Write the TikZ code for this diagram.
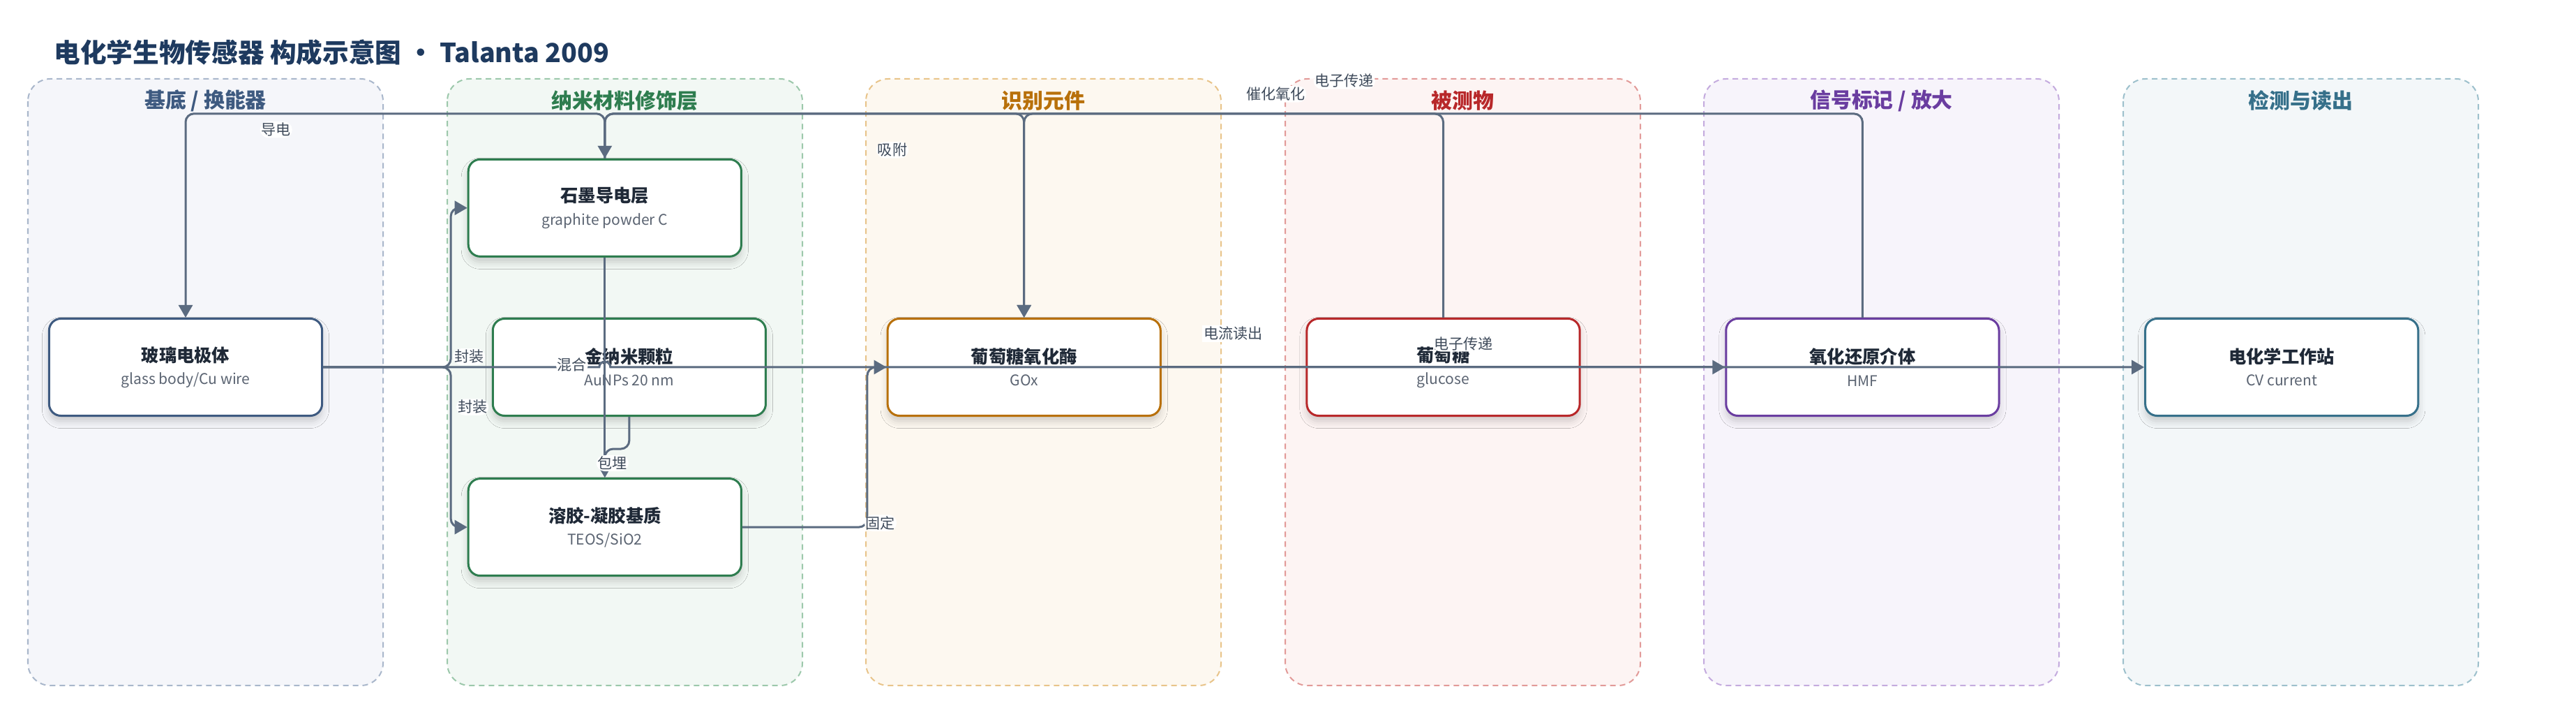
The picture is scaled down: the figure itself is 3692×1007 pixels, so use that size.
\documentclass[tikz,border=0pt]{standalone}
\usepackage{fontspec}
\setmainfont{Noto Sans CJK SC}
\usepackage{tikz}
\usetikzlibrary{arrows.meta, shadows.blur}
\definecolor{edgec}{HTML}{5B6B80}
\definecolor{titlec}{HTML}{1E3A5F}
\definecolor{textc}{HTML}{1F2937}
\definecolor{subc}{HTML}{5B6472}
\definecolor{lblc}{HTML}{3F4B5B}
% lanes: node border / lane fill / lane dash
\definecolor{basec}{HTML}{3E5A80}
\definecolor{basefill}{HTML}{F5F6FA}
\definecolor{basedash}{HTML}{A9B7CB}
\definecolor{nanoc}{HTML}{2E7D4F}
\definecolor{nanofill}{HTML}{F2F8F4}
\definecolor{nanodash}{HTML}{9CC8AB}
\definecolor{recc}{HTML}{B8700A}
\definecolor{recfill}{HTML}{FDF8F0}
\definecolor{recdash}{HTML}{E8C48A}
\definecolor{anac}{HTML}{B8282A}
\definecolor{anafill}{HTML}{FDF4F3}
\definecolor{anadash}{HTML}{E29A98}
\definecolor{sigc}{HTML}{6A3DA0}
\definecolor{sigfill}{HTML}{F7F4FB}
\definecolor{sigdash}{HTML}{C4ABDE}
\definecolor{detc}{HTML}{36708A}
\definecolor{detfill}{HTML}{F3F7F9}
\definecolor{detdash}{HTML}{9DC0CC}
\tikzset{
  lane/.style 2 args={draw=#1, fill=#2, line width=.02cm, dash pattern=on .08cm off .06cm, rounded corners=.32cm},
  lanetitle/.style={text=#1, font=\bfseries\fontsize{8.5}{10}\selectfont},
  box/.style={rectangle, rounded corners=.17cm, draw=#1, line width=.03cm, fill=white,
    minimum width=3.91cm, minimum height=1.39cm, align=center,
    blur shadow={shadow xshift=0cm, shadow yshift=-.08cm, shadow blur radius=.1cm, shadow opacity=18}},
  link/.style={draw=edgec, line width=.03cm, rounded corners=.12cm, -{Triangle[length=.18cm, width=.2cm]}}
}
\tikzstyle{lbl} = [fill=white, inner sep=.02cm, text=lblc, font=\fontsize{6}{7}\selectfont]
\newcommand{\boxtext}[2]{{\bfseries\color{textc}\fontsize{7.2}{8}\selectfont #1}\\[-.1cm]{\color{subc}\fontsize{6}{7}\selectfont #2}}

\begin{document}
\begin{tikzpicture}[x=0.01cm, y=-0.01cm, node distance=6.005cm]
\fill[white] (0,0) rectangle (3692,1007);
\useasboundingbox (0,0) rectangle (3692,1007);

\node[anchor=west, inner sep=0, text=titlec, font=\bfseries\fontsize{10.7}{12}\selectfont] (title) at (77,75) {电化学生物传感器 构成示意图 • Talanta 2009};

% lanes
\draw[lane={basedash}{basefill}] (40,113) rectangle (549,982);
\draw[lane={nanodash}{nanofill}] (641,113) rectangle (1150,982);
\draw[lane={recdash}{recfill}] (1241,113) rectangle (1750,982);
\draw[lane={anadash}{anafill}] (1842,113) rectangle (2351,982);
\draw[lane={sigdash}{sigfill}] (2442,113) rectangle (2951,982);
\draw[lane={detdash}{detfill}] (3043,113) rectangle (3552,982);
\node[lanetitle=basec] (t1) at (294.5,144) {基底 / 换能器};
\node[lanetitle=nanoc] (t2) at (895.5,144) {纳米材料修饰层};
\node[lanetitle=recc] (t3) at (1495.5,144) {识别元件};
\node[lanetitle=anac] (t4) at (2096.5,144) {被测物};
\node[lanetitle=sigc] (t5) at (2696.5,144) {信号标记 / 放大};
\node[lanetitle=detc] (t6) at (3297.5,144) {检测与读出};

% components
\node[box=basec] (glass) at (266,526) {\boxtext{玻璃电极体}{glass body/Cu wire}};
\node[box=nanoc, right of=glass, yshift=2.28cm] (graphite) {\boxtext{石墨导电层}{graphite powder C}};
\node[box=nanoc, right of=glass, xshift=.35cm] (gold) {\boxtext{金纳米颗粒}{AuNPs 20 nm}};
\node[box=nanoc, right of=glass, yshift=-2.29cm] (solgel) {\boxtext{溶胶-凝胶基质}{TEOS/SiO2}};
\node[box=recc, right of=graphite, yshift=-2.28cm] (gox) {\boxtext{葡萄糖氧化酶}{GOx}};
\node[box=anac, right of=gox] (glucose) {\boxtext{葡萄糖}{glucose}};
\node[box=sigc, right of=glucose] (hmf) {\boxtext{氧化还原介体}{HMF}};
\node[box=detc, right of=hmf] (station) {\boxtext{电化学工作站}{CV current}};

% connections
\draw[link] (glass.east) -- ++(183,0) node[lbl, xshift=.26cm, yshift=.15cm] (l1) {封装} |- (graphite.west);
\draw[link] (glass.east) -- ++(183,0) node[lbl, xshift=.31cm, yshift=-.57cm] (l2) {封装} |- (solgel.west);
\draw[link, sharp corners] (glass.east) -- ([xshift=-.08cm]glass.east -| graphite.south)
  arc[start angle=180, end angle=0, radius=.08cm]
  -- node[lbl, pos=.406, yshift=.48cm] (l3) {电流读出} (station.west);
\draw[link] (graphite.south) -- node[lbl, xshift=-.47cm, yshift=.04cm] (l4) {混合} (solgel.north);
\draw[link] (gold.south) -- ++(0,46) -| node[lbl, pos=.75, xshift=.11cm] (l5) {包埋} (solgel.north);
\draw[link] (solgel.east) -- ++(179,0) node[lbl, xshift=.19cm, yshift=.06cm] (l6) {固定} |- (gox.west);
\draw[link] (gox.east) -- node[lbl, xshift=.29cm, yshift=.34cm] (l7) {电子传递} (hmf.west);
\draw[link] (glucose.north) -- ++(0,-292) -| node[lbl, pos=.2, yshift=.28cm] (l8) {催化氧化} (gox.north);
\draw[link] (hmf.north) -- ++(0,-292) -| node[lbl, pos=.206, yshift=.47cm] (l9) {电子传递} (graphite.north);
\draw[link] (graphite.north) -- ++(0,-64) -| node[lbl, pos=.392, yshift=-.23cm] (l10) {导电} (glass.north);
\draw[link] (graphite.north) -- ++(0,-64) -| node[lbl, pos=.343, yshift=-.52cm] (l11) {吸附} (gox.north);
\end{tikzpicture}
\end{document}
